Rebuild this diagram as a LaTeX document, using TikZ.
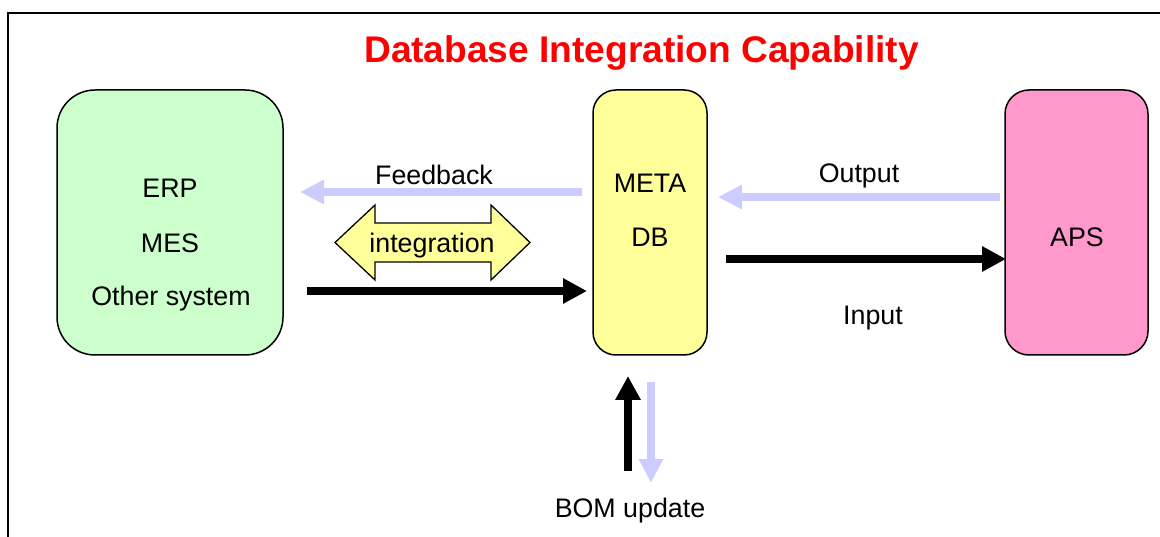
\documentclass[tikz,border=0pt]{standalone}
\usepackage{fontspec}
\setmainfont{Liberation Sans}
\usetikzlibrary{arrows.meta}
\definecolor{boxgreen}{HTML}{CCFFCC}
\definecolor{boxyellow}{HTML}{FFFF99}
\definecolor{boxpink}{HTML}{FF99CC}
\definecolor{flowlav}{HTML}{CCCCFF}
\tikzset{
  sysbox/.style={draw=black, line width=1.5pt, inner sep=0pt, minimum height=265pt},
  lbl/.style={anchor=base, inner sep=0pt, font=\fontsize{26.8}{30}\selectfont},
  fbflow/.style={draw=flowlav, line width=8pt, -{Triangle[length=24pt,width=23pt]}},
  mainflow/.style={draw=black, line width=8.5pt, -{Triangle[length=24pt,width=24pt]}},
}
\begin{document}
\begin{tikzpicture}[x=1pt,y=-1pt]
\useasboundingbox (0,0) rectangle (1160,537);
% outer frame (top and left edges)
\draw[line width=2pt] (8,537) -- (8,13) -- (1160,13);

% title
\node[anchor=base, inner sep=0pt, text=red, font=\fontsize{37.1}{42}\selectfont\bfseries] (title) at (641.5,63) {Database Integration Capability};

% system boxes
\node[sysbox, fill=boxgreen, rounded corners=38pt, minimum width=226pt] (erp) at (170,222.5) {};
\node[sysbox, fill=boxyellow, rounded corners=23pt, minimum width=114pt] (meta) at (650,222.5) {};
\node[sysbox, fill=boxpink, rounded corners=24pt, minimum width=143pt] (aps) at (1076.5,222.5) {};

% box labels
\node[lbl] (erpA) at (170,198) {ERP};
\node[lbl] (erpB) at (170,253) {MES};
\node[lbl] (erpC) at (171,306) {Other system};
\node[lbl] (metaA) at (650,193) {META};
\node[lbl] (metaB) at (650,247) {DB};
\node[lbl] (apsA) at (1077,247) {APS};

% connector end points
\coordinate (fbT) at (582,192);   \coordinate (fbH) at (300,192);
\coordinate (erpT) at (307,291);  \coordinate (erpH) at (587,291);
\coordinate (outT) at (1000,197); \coordinate (outH) at (718,197);
\coordinate (inT) at (726,259);   \coordinate (inH) at (1006,259);
\coordinate (upT) at (628,471);   \coordinate (upH) at (628,376);
\coordinate (dnT) at (651,382);   \coordinate (dnH) at (651,483);

% flows
\draw[fbflow] (fbT) -- (fbH);
\draw[mainflow] (erpT) -- (erpH);
\draw[fbflow] (outT) -- (outH);
\draw[mainflow] (inT) -- (inH);
\draw[mainflow] (upT) -- (upH);
\draw[fbflow] (dnT) -- (dnH);

% integration double arrow
\filldraw[fill=boxyellow, draw=black, line width=1.3pt, line join=miter]
  (335,242.5) -- (375,205) -- (375,223) -- (491,223) -- (491,205) -- (530,242.5)
  -- (491,280) -- (491,262) -- (375,262) -- (375,280) -- cycle;
\node[lbl] (integ) at (432,253) {integration};

% flow labels
\node[lbl] (fbL) at (434,185) {Feedback};
\node[lbl] (outL) at (859,183) {Output};
\node[lbl] (inL) at (873,325) {Input};
\node[lbl] (bomL) at (630,517) {BOM update};
\end{tikzpicture}
\end{document}
